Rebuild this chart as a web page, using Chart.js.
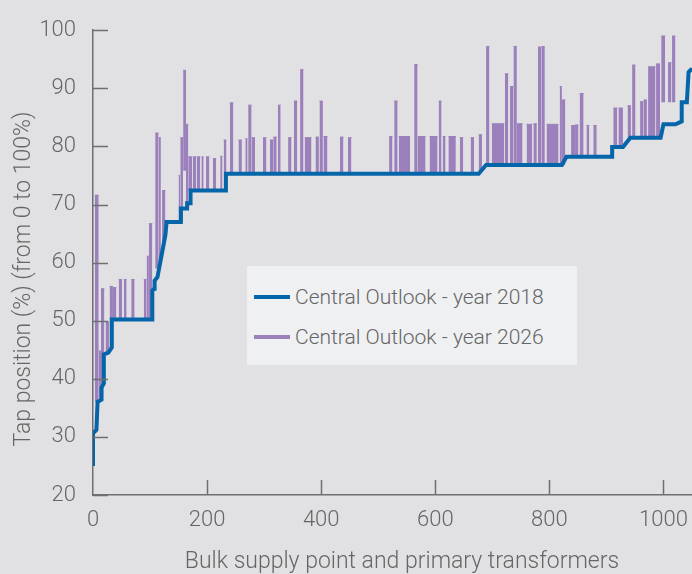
<!DOCTYPE html>
<html>
<head>
<meta charset="utf-8">
<script src="https://cdn.jsdelivr.net/npm/chart.js@4.4.0/dist/chart.umd.min.js"></script>
<style>
html, body { margin: 0; padding: 0; background: #e1e1e3; }
#wrap { position: relative; width: 692px; height: 574px; }
#legend { position: absolute; left: 247px; top: 266px; width: 330px; height: 99px; background: #eff0f2;
  font: 300 21px Roboto, 'Liberation Sans', sans-serif; color: #666; }
.row { position: absolute; left: 7px; height: 24px; line-height: 24px; white-space: nowrap; }
.row i { display: inline-block; width: 36px; height: 4px; vertical-align: middle; margin-right: 5px; position: relative; top: -1px; }
</style>
</head>
<body>
<div id="wrap">
  <canvas id="chart" width="692" height="574"></canvas>
  <div id="legend">
    <div class="row" style="top:19px"><i style="background:#0565a9"></i>Central Outlook - year 2018</div>
    <div class="row" style="top:59px"><i style="background:#9b80bb"></i>Central Outlook - year 2026</div>
  </div>
</div>
<script>
// 2018: step line vertices (transformer index, tap position %)
var blueX = [0,0,6,8,15,15,19,19,27,33,33,104,104,107,108,113,127,129,154,154,165,165,171,171,233,233,676,689,822,830,910,910,929,942,995,1000,1021,1032,1032,1041,1044,1050];
var blueY = [25.0,30.6,31.2,36.0,36.4,38.5,39.2,44.2,44.5,45.4,50.2,50.2,55.2,55.5,56.9,57.5,64.8,67.0,67.0,69.3,69.3,70.2,70.2,72.4,72.4,75.3,75.3,76.8,76.8,78.2,78.2,79.9,79.9,81.5,81.5,83.8,83.8,84.3,87.6,87.6,92.8,93.4];

// 2026: spans where the tap position rises above the 2018 curve
var spikeFrom = [3,10,14,22,29,35,45,54,67,89,94,98,109,115,121,150,153,158,163,167,175,182,190,198,210,223,229,
  240,255,267,272,278,298,310,316,324,342,352,363,371,390,397,404,433,447,519,528,536,563,569,590,606,613,623,643,662,676,
  689,699,722,731,737,743,760,772,780,786,795,818,822,838,845,853,865,877,912,921,937,945,959,965,973,987,996,1008,1015];
var spikeTo = [10,14,20,28,35,41,51,59,73,94,98,104,115,119,127,153,158,163,167,174,181,188,194,204,216,227,234,
  246,261,271,278,284,304,316,322,329,348,358,369,383,396,403,411,439,453,525,534,556,569,583,604,611,618,636,649,668,682,
  695,721,728,737,743,753,770,778,786,792,816,822,828,845,851,860,870,883,919,929,943,951,965,971,986,994,1003,1014,1021];
var spikeTop = [71.6,44.8,55.5,49.8,55.9,55.7,57.1,57.1,57.1,57.1,61.1,66.7,82.3,81.5,72.4,75.0,81.5,93.1,83.8,78.2,78.2,78.2,78.2,78.2,77.9,78.3,81.1,
  87.5,81.1,81.3,87.1,81.5,81.5,81.1,81.6,87.1,81.5,87.8,93.2,81.5,81.6,87.8,81.7,81.6,81.5,81.7,87.8,81.7,94.1,81.7,81.7,87.8,81.7,81.7,81.5,81.5,82.0,
  97.2,83.9,92.5,90.3,97.2,83.9,83.8,83.9,97.1,97.2,83.8,90.3,88.0,83.6,83.7,89.1,83.6,83.6,86.6,86.6,87.0,94.0,87.7,88.0,93.7,94.2,99.0,94.4,99.0];
var spikeBase = [36.0,36.4,39.0,44.3,45.0,50.2,50.2,50.2,50.2,50.2,50.2,50.2,59.0,60.0,63.0,67.0,67.0,75.8,70.2,72.4,72.4,72.4,72.4,72.4,72.4,72.4,72.4,
  75.3,75.3,75.3,75.3,75.3,75.3,75.3,75.3,75.3,75.3,75.3,75.3,75.3,75.3,75.3,75.3,75.3,75.3,75.3,75.3,75.3,75.3,75.3,75.3,75.3,75.3,75.3,75.3,75.3,75.5,
  76.5,76.8,76.8,76.8,76.8,76.8,76.8,76.8,76.8,76.8,76.8,76.8,76.8,78.2,78.2,78.2,78.2,78.2,79.9,79.9,81.0,81.5,81.5,81.5,81.5,81.5,87.6,87.6,87.6];

var xTicks = [0, 200, 400, 600, 800, 1000];
var yMin = 20, yMax = 100, yStep = 10;
var xTitle = 'Bulk supply point and primary transformers';
var yTitle = 'Tap position (%) (from 0 to 100%)';

var BLUE = '#0565a9', PURPLE = '#9b80bb', AXIS = '#6f6f6f', TEXT = '#666666';
var FONT = "Roboto, 'Liberation Sans', sans-serif";

var blueData = blueX.map(function(x, i) { return { x: x, y: blueY[i] }; });
var topData = [], baseData = [];
for (var i = 0; i < spikeFrom.length; i++) {
  topData.push({ x: spikeFrom[i], y: spikeTop[i] }, { x: spikeTo[i], y: spikeTop[i] }, { x: spikeTo[i], y: null });
  baseData.push({ x: spikeFrom[i], y: spikeBase[i] }, { x: spikeTo[i], y: spikeBase[i] }, { x: spikeTo[i], y: null });
}

// short inward tick marks on both axes
var tickMarks = {
  id: 'tickMarks',
  afterDatasetsDraw: function(chart) {
    var ctx = chart.ctx, xs = chart.scales.x, ys = chart.scales.y, a = chart.chartArea;
    ctx.save();
    ctx.strokeStyle = AXIS;
    ctx.lineWidth = 1.5;
    ctx.beginPath();
    ys.ticks.forEach(function(t) {
      var y = Math.round(ys.getPixelForValue(t.value)) + 0.5;
      ctx.moveTo(a.left, y); ctx.lineTo(a.left + 15, y);
    });
    xs.ticks.forEach(function(t) {
      if (t.value === 0) return;
      var x = Math.round(xs.getPixelForValue(t.value)) + 0.5;
      ctx.moveTo(x, a.bottom); ctx.lineTo(x, a.bottom - 15);
    });
    ctx.stroke();
    ctx.restore();
  }
};

// axis titles, placed like the original artwork
var axisTitles = {
  id: 'axisTitles',
  afterDraw: function(chart) {
    var ctx = chart.ctx;
    ctx.save();
    ctx.fillStyle = TEXT;
    ctx.font = '300 23px ' + FONT;
    ctx.textAlign = 'center';
    ctx.textBaseline = 'middle';
    ctx.fillText(xTitle, 402, 562);
    ctx.translate(24, 279);
    ctx.rotate(-Math.PI / 2);
    ctx.fillText(yTitle, 0, 0);
    ctx.restore();
  }
};

new Chart(document.getElementById('chart'), {
  type: 'line',
  data: {
    datasets: [
      { data: blueData, borderColor: BLUE, borderWidth: 4, pointRadius: 0, tension: 0, fill: false },
      { data: baseData, borderWidth: 0, borderColor: 'rgba(0,0,0,0)', pointRadius: 0, fill: false },
      { data: topData, borderColor: PURPLE, backgroundColor: PURPLE, borderWidth: 1, pointRadius: 0, fill: 1 }
    ]
  },
  options: {
    responsive: false,
    animation: false,
    layout: { padding: { top: 24, right: 0, left: 0, bottom: 0 } },
    plugins: { legend: { display: false }, tooltip: { enabled: false } },
    scales: {
      x: {
        type: 'linear', min: 0, max: 1050,
        afterBuildTicks: function(s) { s.ticks = xTicks.map(function(v) { return { value: v }; }); },
        afterFit: function(s) { s.height = 79; s.paddingLeft = 0; s.paddingRight = 0; },
        grid: { display: false, drawTicks: false },
        border: { display: true, color: AXIS, width: 1.5 },
        ticks: { color: TEXT, font: { family: FONT, size: 22, weight: 300 }, padding: 12, maxRotation: 0,
          callback: function(v) { return String(v); } }
      },
      y: {
        min: yMin, max: yMax,
        ticks: { stepSize: yStep, color: TEXT, font: { family: FONT, size: 22, weight: 300 }, padding: 17 },
        afterFit: function(s) { s.width = 93; },
        grid: { display: false, drawTicks: false },
        border: { display: true, color: AXIS, width: 1.5 }
      }
    }
  },
  plugins: [tickMarks, axisTitles]
});
</script>
</body>
</html>
